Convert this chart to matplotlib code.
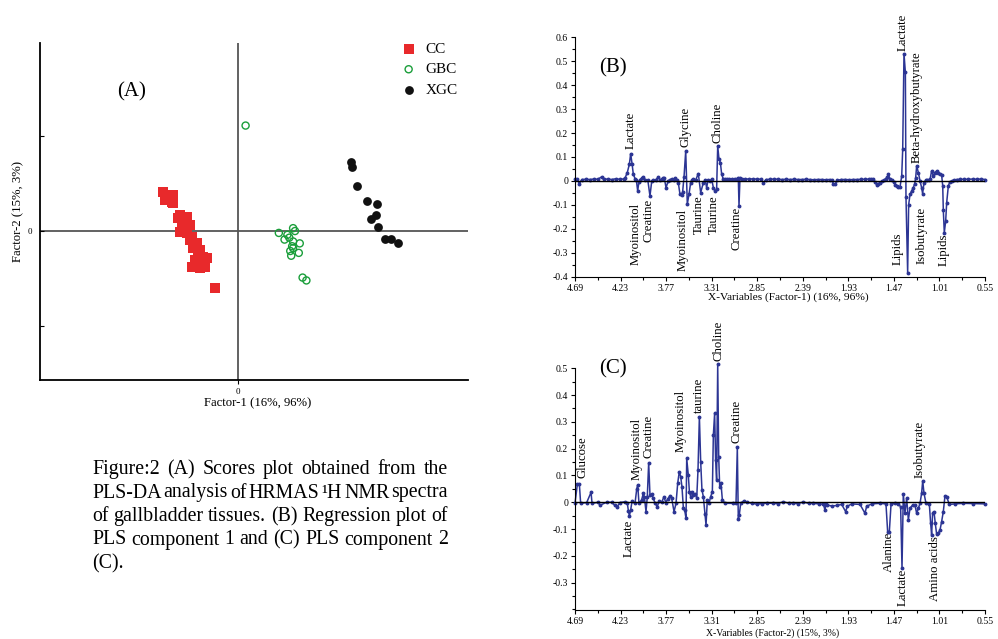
import matplotlib
matplotlib.use("Agg")
import matplotlib.pyplot as plt
from matplotlib.ticker import FixedLocator, MultipleLocator, FuncFormatter

plt.rcParams["font.family"] = ["Liberation Serif", "DejaVu Serif"]

W, H = 998, 639

# ---------------- panel A : PLS-DA scores ----------------
cc_x = [-0.79, -0.68, -0.77, -0.69, -0.68, -0.61, -0.54, -0.63, -0.51, -0.59, -0.61, -0.54, -0.48,
        -0.51, -0.43, -0.47, -0.40, -0.42, -0.37, -0.33, -0.45, -0.40, -0.48, -0.40, -0.35, -0.24]
cc_y = [0.41, 0.38, 0.33, 0.31, 0.29, 0.17, 0.15, 0.14, 0.06, 0.04, -0.01, -0.02, -0.06,
        -0.09, -0.13, -0.18, -0.20, -0.23, -0.27, -0.28, -0.31, -0.33, -0.38, -0.39, -0.38, -0.60]
gbc_x = [0.08, 0.43, 0.58, 0.60, 0.52, 0.54, 0.49, 0.58, 0.65, 0.57, 0.58, 0.55, 0.64, 0.56, 0.68, 0.72]
gbc_y = [1.11, -0.02, 0.03, 0.00, -0.04, -0.07, -0.09, -0.11, -0.13, -0.16, -0.18, -0.21, -0.23, -0.26, -0.49, -0.52]
xgc_x = [1.19, 1.20, 1.25, 1.36, 1.46, 1.40, 1.45, 1.47, 1.55, 1.61, 1.68]
xgc_y = [0.73, 0.67, 0.47, 0.32, 0.28, 0.13, 0.17, 0.04, -0.08, -0.08, -0.13]

# ---------------- panel B : regression coefficients, factor 1 ----------------
b_ppm = [4.69, 4.67, 4.646, 4.62, 4.58, 4.54, 4.50, 4.46, 4.421, 4.40,
         4.36, 4.32, 4.28, 4.24, 4.20, 4.185, 4.162, 4.141, 4.128, 4.114,
         4.101, 4.084, 4.07, 4.057, 4.045, 4.034, 4.015, 4.000, 3.98, 3.955,
         3.933, 3.915, 3.899, 3.875, 3.849, 3.83, 3.815, 3.80, 3.788, 3.771,
         3.748, 3.73, 3.714, 3.695, 3.680, 3.665, 3.647, 3.630, 3.613, 3.603,
         3.589, 3.572, 3.556, 3.539, 3.522, 3.51, 3.495, 3.47, 3.445, 3.421,
         3.394, 3.375, 3.361, 3.345, 3.327, 3.31, 3.293, 3.276, 3.260, 3.249,
         3.236, 3.222, 3.209, 3.192, 3.175, 3.159, 3.13, 3.10, 3.075, 3.058,
         3.041, 3.034, 3.024, 3.00, 2.97, 2.93, 2.89, 2.85, 2.81, 2.788,
         2.76, 2.72, 2.68, 2.64, 2.60, 2.56, 2.52, 2.48, 2.44, 2.40,
         2.36, 2.32, 2.28, 2.24, 2.20, 2.16, 2.12, 2.095, 2.081, 2.065,
         2.04, 2.00, 1.96, 1.92, 1.88, 1.84, 1.80, 1.76, 1.72, 1.70,
         1.678, 1.66, 1.644, 1.627, 1.610, 1.59, 1.57, 1.55, 1.535, 1.526,
         1.509, 1.49, 1.47, 1.455, 1.442, 1.425, 1.408, 1.391, 1.381, 1.368,
         1.354, 1.348, 1.331, 1.321, 1.307, 1.290, 1.274, 1.26, 1.250, 1.240,
         1.223, 1.206, 1.190, 1.180, 1.166, 1.150, 1.139, 1.12, 1.105, 1.089,
         1.072, 1.055, 1.038, 1.021, 1.004, 0.988, 0.977, 0.971, 0.961, 0.947,
         0.937, 0.920, 0.905, 0.887, 0.86, 0.836, 0.80, 0.76, 0.72, 0.668,
         0.63, 0.59, 0.55]
b_val = [0.007, 0.008, -0.011, 0.006, 0.007, 0.006, 0.008, 0.007, 0.017, 0.007,
         0.008, 0.006, 0.009, 0.007, 0.008, 0.012, 0.035, 0.070, 0.114, 0.072,
         0.028, 0.010, 0.002, -0.042, -0.005, 0.006, 0.012, 0.017, 0.005, 0.004,
         -0.063, 0.000, 0.003, 0.005, 0.016, 0.004, 0.007, 0.014, 0.012, -0.028,
         0.000, 0.006, 0.007, 0.004, 0.011, 0.003, -0.007, -0.056, -0.060, -0.045,
         0.018, 0.125, -0.097, -0.056, -0.007, 0.004, 0.007, 0.005, 0.031, -0.049,
         -0.007, 0.004, -0.028, 0.005, 0.000, 0.008, -0.028, -0.042, -0.035, 0.146,
         0.091, 0.077, 0.028, 0.007, 0.008, 0.007, 0.008, 0.007, 0.010, 0.007,
         0.014, -0.104, 0.014, 0.008, 0.007, 0.009, 0.008, 0.008, 0.007, -0.007,
         0.006, 0.007, 0.008, 0.007, 0.006, 0.007, 0.006, 0.007, 0.006, 0.006,
         0.007, 0.006, 0.005, 0.006, 0.006, 0.005, 0.006, 0.003, -0.011, -0.014,
         0.003, 0.006, 0.006, 0.005, 0.006, 0.006, 0.007, 0.007, 0.008, 0.008,
         0.007, -0.005, -0.017, -0.012, -0.007, 0.000, 0.004, 0.010, 0.018, 0.028,
         0.007, 0.003, -0.005, -0.015, -0.021, -0.024, -0.025, 0.021, 0.132, 0.532,
         0.453, -0.065, -0.383, -0.100, -0.056, -0.042, -0.028, -0.012, 0.014, 0.063,
         0.035, 0.000, -0.028, -0.053, -0.007, 0.002, 0.003, 0.005, 0.007, 0.042,
         0.021, 0.035, 0.042, 0.035, 0.030, 0.025, -0.020, -0.121, -0.216, -0.167,
         -0.091, -0.020, -0.005, 0.000, 0.004, 0.006, 0.007, 0.007, 0.007, 0.008,
         0.007, 0.008, 0.006]

# metabolite labels: (name, ppm, y of text end, pointing up?)
b_labels = [("Lactate", 4.127, 0.134, True), ("Glycine", 3.572, 0.142, True),
            ("Choline", 3.249, 0.160, True), ("Lactate", 1.383, 0.541, True),
            ("Beta-hydroxybutyrate", 1.240, 0.075, True),
            ("Myoinositol", 4.075, -0.092, False), ("Creatine", 3.950, -0.075, False),
            ("Myoinositol", 3.607, -0.117, False), ("Taurine", 3.435, -0.061, False),
            ("Taurine", 3.293, -0.061, False), ("Creatine", 3.057, -0.107, False),
            ("Lipids", 1.431, -0.217, False), ("Isobutyrate", 1.189, -0.107, False),
            ("Lipids", 0.971, -0.218, False)]

# ---------------- panel C : regression coefficients, factor 2 ----------------
c_ppm = [4.690, 4.666, 4.646, 4.633, 4.572, 4.528, 4.518, 4.454, 4.438, 4.370,
         4.320, 4.286, 4.263, 4.236, 4.185, 4.162, 4.151, 4.141, 4.128, 4.114,
         4.084, 4.067, 4.057, 4.044, 4.017, 4.000, 3.990, 3.973, 3.960, 3.946,
         3.933, 3.916, 3.899, 3.882, 3.859, 3.839, 3.815, 3.791, 3.774, 3.754,
         3.731, 3.714, 3.690, 3.670, 3.653, 3.637, 3.623, 3.610, 3.596, 3.583,
         3.569, 3.562, 3.546, 3.535, 3.522, 3.512, 3.495, 3.475, 3.461, 3.448,
         3.434, 3.421, 3.408, 3.394, 3.377, 3.367, 3.354, 3.337, 3.320, 3.303,
         3.293, 3.280, 3.270, 3.260, 3.249, 3.239, 3.229, 3.216, 3.202, 3.175,
         3.091, 3.064, 3.051, 3.041, 3.031, 3.017, 2.984, 2.957, 2.90, 2.856,
         2.80, 2.75, 2.687, 2.64, 2.586, 2.53, 2.485, 2.44, 2.384, 2.33,
         2.283, 2.23, 2.182, 2.166, 2.156, 2.142, 2.098, 2.048, 1.997, 1.957,
         1.940, 1.896, 1.812, 1.762, 1.745, 1.694, 1.610, 1.550, 1.533, 1.516,
         1.499, 1.459, 1.425, 1.402, 1.388, 1.375, 1.358, 1.341, 1.324, 1.307,
         1.280, 1.257, 1.240, 1.223, 1.206, 1.190, 1.179, 1.166, 1.146, 1.112,
         1.099, 1.089, 1.079, 1.065, 1.052, 1.038, 1.021, 1.004, 0.988, 0.971,
         0.954, 0.937, 0.910, 0.853, 0.769, 0.668, 0.550]
c_val = [-0.004, 0.068, 0.068, -0.004, -0.001, 0.037, -0.004, 0.000, -0.011, 0.000,
         0.000, -0.012, -0.016, -0.001, 0.002, -0.004, -0.031, -0.051, -0.029, 0.004,
         -0.004, 0.049, 0.065, -0.004, 0.009, 0.034, 0.021, -0.035, 0.021, 0.148,
         0.027, 0.030, 0.015, -0.004, -0.016, 0.006, 0.000, 0.021, -0.001, 0.012,
         0.025, 0.015, -0.035, -0.004, 0.071, 0.114, 0.096, 0.058, -0.020, -0.028,
         -0.060, 0.164, 0.102, 0.040, 0.021, 0.040, 0.027, 0.031, 0.015, 0.121,
         0.320, 0.152, 0.046, 0.021, -0.044, -0.085, 0.009, -0.004, 0.021, 0.040,
         0.251, 0.332, 0.158, 0.083, 0.515, 0.170, 0.058, 0.071, 0.009, -0.004,
         -0.004, -0.001, 0.205, -0.063, -0.047, -0.004, 0.006, 0.000, -0.004, -0.007,
         -0.005, -0.003, -0.004, -0.005, 0.002, -0.004, -0.004, -0.005, 0.001, -0.004,
         -0.004, -0.006, -0.007, -0.029, -0.008, -0.010, -0.014, -0.012, -0.008, -0.035,
         -0.015, -0.006, -0.008, -0.041, -0.015, -0.006, -0.004, -0.006, -0.110, -0.110,
         -0.008, -0.004, -0.008, -0.016, -0.246, 0.031, -0.040, 0.015, -0.066, -0.022,
         -0.010, -0.012, -0.041, -0.022, -0.004, 0.034, 0.080, 0.034, -0.004, -0.007,
         -0.078, -0.122, -0.040, -0.035, -0.079, -0.120, -0.115, -0.103, -0.072, -0.035,
         0.024, 0.020, -0.008, -0.006, -0.004, -0.005, -0.006]

c_labels = [("Glucose", 4.616, 0.090, True), ("Myoinositol", 4.067, 0.083, True),
            ("Creatine", 3.950, 0.164, True), ("Myoinositol", 3.623, 0.189, True),
            ("taurine", 3.438, 0.334, True), ("Choline", 3.243, 0.528, True),
            ("Creatine", 3.057, 0.220, True), ("Isobutyrate", 1.206, 0.092, True),
            ("Lactate", 4.152, -0.066, False), ("Alanine", 1.519, -0.110, False),
            ("Lactate", 1.385, -0.246, False), ("Amino acids", 1.055, -0.128, False)]

ppm_ticks = [4.69, 4.23, 3.77, 3.31, 2.85, 2.39, 1.93, 1.47, 1.01, 0.55]

caption = ["Figure:2 (A) Scores plot obtained from the",
           "PLS-DA analysis of HRMAS \u00b9H NMR spectra",
           "of gallbladder tissues. (B) Regression plot of",
           "PLS component 1 and (C) PLS component 2",
           "(C)."]

BLUE = "#2c3594"


def px_axes(fig, left, top, right, bottom):
    return fig.add_axes([left / W, 1 - bottom / H, (right - left) / W, (bottom - top) / H])


def px_text(fig, x, y, s, **kw):
    return fig.text(x / W, 1 - y / H, s, **kw)


def spectrum(ax, ppm, val, labels, ylim, yticks):
    ax.plot(ppm, val, color=BLUE, lw=1.1, marker="o", ms=1.8, clip_on=False, zorder=2)
    ax.axhline(0, color="black", lw=1.0, zorder=3)
    ax.set_xlim(4.69, 0.55)
    ax.set_ylim(*ylim)
    ax.spines["top"].set_visible(False)
    ax.spines["right"].set_visible(False)
    ax.xaxis.set_major_locator(FixedLocator(ppm_ticks))
    ax.xaxis.set_minor_locator(FixedLocator([t - 0.23 for t in ppm_ticks[:-1]]))
    ax.xaxis.set_major_formatter(FuncFormatter(lambda v, _: f"{v:.2f}"))
    ax.yaxis.set_major_locator(FixedLocator(yticks))
    ax.yaxis.set_minor_locator(MultipleLocator(0.05))
    ax.yaxis.set_major_formatter(FuncFormatter(lambda v, _: "0" if abs(v) < 1e-9 else f"{v:.1f}"))
    ax.tick_params(which="major", direction="out", length=3, width=0.8, labelsize=7, pad=2)
    ax.tick_params(which="minor", direction="out", length=2, width=0.8)
    for name, x, y, up in labels:
        ax.text(x, y, name, rotation=90, ha="center", va="bottom" if up else "top",
                fontsize=9.2, clip_on=False)


fig = plt.figure(figsize=(W / 100, H / 100), dpi=100)

# ---- A ----
axA = px_axes(fig, 40, 43, 468, 380)
axA.set_xlim(-2.084, 2.421)
axA.set_ylim(-1.568, 1.979)
axA.axhline(0, color="#555555", lw=1.3, zorder=1)
axA.axvline(0, color="#555555", lw=1.3, zorder=1)
axA.scatter(cc_x, cc_y, marker="s", s=42, color="#e8292b", linewidths=0, label="CC", zorder=3)
axA.scatter(gbc_x, gbc_y, marker="o", s=26, facecolors="none", edgecolors="#1a9e3a",
            linewidths=1.0, label="GBC", zorder=3)
axA.scatter(xgc_x, xgc_y, marker="o", s=40, color="#111111", linewidths=0, label="XGC", zorder=3)
axA.spines["top"].set_visible(False)
axA.spines["right"].set_visible(False)
axA.spines["left"].set_linewidth(1.3)
axA.spines["bottom"].set_linewidth(1.3)
axA.set_xticks([0])
axA.set_xticklabels(["0"])
axA.set_yticks([-1, 0, 1])
axA.set_yticklabels(["", "0", ""])
axA.tick_params(axis="y", direction="in", length=3, labelsize=6.5, pad=6)
axA.tick_params(axis="x", direction="out", length=3, labelsize=6.5, pad=3)
axA.legend(loc="upper left", bbox_to_anchor=(401 / W, 1 - 42 / H), bbox_transform=fig.transFigure,
           frameon=False, fontsize=11, handlelength=1.0, handletextpad=0.6,
           labelspacing=0.45, borderpad=0, borderaxespad=0)
px_text(fig, 132, 92, "(A)", fontsize=15, ha="center", va="center")
px_text(fig, 258, 403, "Factor-1 (16%, 96%)", fontsize=9.2, ha="center", va="center")
px_text(fig, 18, 212, "Factor-2 (15%, 3%)", fontsize=9.2, ha="center", va="center", rotation=90)

# ---- B ----
axB = px_axes(fig, 575, 37.3, 985, 276.7)
spectrum(axB, b_ppm, b_val, b_labels, (-0.4, 0.6), [-0.4, -0.3, -0.2, -0.1, 0, 0.1, 0.2, 0.3, 0.4, 0.5, 0.6])
px_text(fig, 613, 68, "(B)", fontsize=15, ha="center", va="center")
px_text(fig, 788, 297, "X-Variables (Factor-1) (16%, 96%)", fontsize=8.2, ha="center", va="center")

# ---- C ----
axC = px_axes(fig, 575, 368.3, 985, 610)
spectrum(axC, c_ppm, c_val, c_labels, (-0.402, 0.5), [-0.3, -0.2, -0.1, 0, 0.1, 0.2, 0.3, 0.4, 0.5])
px_text(fig, 613, 369, "(C)", fontsize=15, ha="center", va="center")
px_text(fig, 773, 633, "X-Variables (Factor-2) (15%, 3%)", fontsize=7, ha="center", va="center")

# ---- caption, justified between x0 and x1 ----
x0, x1 = 92, 448
renderer = fig.canvas.get_renderer()
for i, line in enumerate(caption):
    y = 474 + i * 23.5
    if i == len(caption) - 1:
        px_text(fig, x0, y, line, fontsize=14.3, va="baseline")
        continue
    words = line.split()
    texts = [px_text(fig, x0, y, w, fontsize=14.3, va="baseline") for w in words]
    widths = [t.get_window_extent(renderer).width for t in texts]
    gap = (x1 - x0 - sum(widths)) / (len(words) - 1)
    x = x0
    for t, w in zip(texts, widths):
        t.set_x(x / W)
        x += w + gap

fig.savefig("out.png", dpi=100)
